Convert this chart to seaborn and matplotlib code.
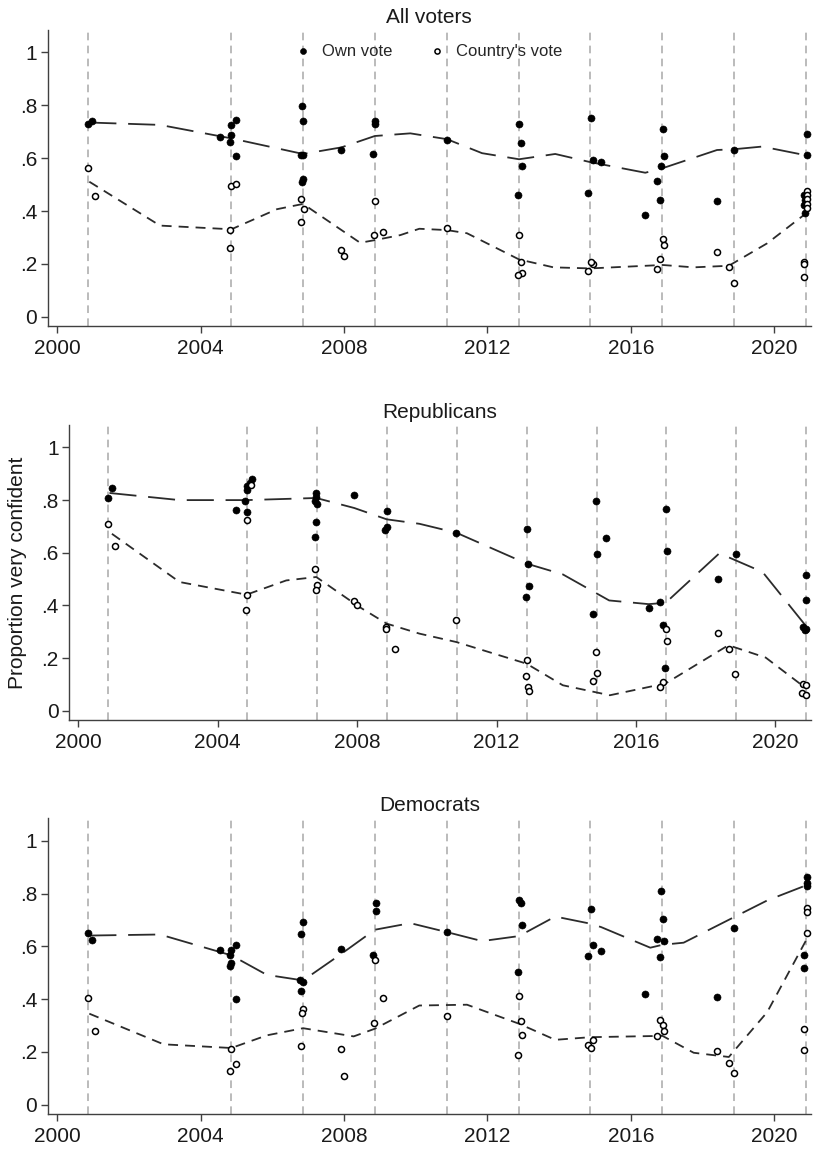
import matplotlib
matplotlib.use("Agg")
import matplotlib.pyplot as plt
import pandas as pd
import seaborn as sns

# values
ELECTIONS = [2000.86, 2004.85, 2006.86, 2008.86, 2010.86, 2012.87, 2014.87, 2016.87, 2018.87, 2020.87]
XTICKS = [2000, 2004, 2008, 2012, 2016, 2020]
YTICKS = [0, 0.2, 0.4, 0.6, 0.8, 1]
YTICK_LABELS = ["0", ".2", ".4", ".6", ".8", "1"]
TITLES = ["All voters", "Republicans", "Democrats"]

# All voters
ALL_OWN_X = [2000.86, 2000.97, 2004.55, 2004.85, 2004.85, 2004.81, 2004.99, 2004.98, 2006.83, 2006.87,
             2006.81, 2006.87, 2006.83, 2006.86, 2007.93, 2008.87, 2008.87, 2008.82, 2010.87, 2012.88,
             2012.93, 2012.97, 2012.86, 2014.88, 2014.93, 2015.17, 2014.80, 2016.90, 2016.92, 2016.85,
             2016.73, 2016.80, 2016.38, 2018.40, 2018.88, 2020.90, 2020.90, 2020.82, 2020.84, 2020.82,
             2020.84]
ALL_OWN_Y = [0.730, 0.739, 0.679, 0.724, 0.689, 0.660, 0.745, 0.610, 0.798, 0.742,
             0.611, 0.611, 0.511, 0.521, 0.631, 0.742, 0.730, 0.617, 0.669, 0.730,
             0.659, 0.571, 0.462, 0.751, 0.593, 0.585, 0.470, 0.711, 0.610, 0.571,
             0.513, 0.441, 0.386, 0.437, 0.631, 0.692, 0.612, 0.461, 0.442, 0.423,
             0.392]
ALL_CTRY_X = [2000.86, 2001.07, 2004.85, 2004.99, 2004.83, 2004.82, 2006.81, 2006.88, 2006.80, 2007.92,
              2008.01, 2008.87, 2008.84, 2009.10, 2010.87, 2012.88, 2012.93, 2012.97, 2012.86, 2014.93,
              2014.88, 2014.80, 2016.90, 2016.92, 2016.80, 2016.73, 2018.40, 2018.73, 2018.88, 2020.90,
              2020.90, 2020.90, 2020.90, 2020.90, 2020.82, 2020.82, 2020.82]
ALL_CTRY_Y = [0.562, 0.457, 0.495, 0.503, 0.330, 0.261, 0.447, 0.408, 0.359, 0.253,
              0.230, 0.439, 0.308, 0.322, 0.336, 0.311, 0.207, 0.164, 0.157, 0.199,
              0.207, 0.172, 0.293, 0.271, 0.220, 0.182, 0.245, 0.189, 0.129, 0.477,
              0.461, 0.445, 0.427, 0.410, 0.208, 0.200, 0.152]
ALL_OWN_FIT_X = [2000.90, 2002.87, 2004.86, 2006.86, 2007.93, 2008.86, 2009.85, 2010.87, 2011.85, 2012.88,
                 2013.89, 2014.87, 2016.40, 2016.88, 2018.40, 2018.88, 2019.66, 2020.88]
ALL_OWN_FIT_Y = [0.735, 0.726, 0.675, 0.616, 0.641, 0.684, 0.694, 0.672, 0.619, 0.596,
                 0.616, 0.585, 0.545, 0.562, 0.631, 0.634, 0.644, 0.611]
ALL_CTRY_FIT_X = [2000.90, 2002.87, 2004.86, 2006.13, 2006.86, 2008.45, 2008.86, 2009.57, 2010.10, 2010.87,
                  2011.43, 2012.88, 2013.84, 2014.87, 2016.88, 2017.75, 2018.73, 2019.80, 2020.88]
ALL_CTRY_FIT_Y = [0.511, 0.345, 0.331, 0.407, 0.427, 0.280, 0.290, 0.309, 0.333, 0.328,
                  0.316, 0.217, 0.187, 0.183, 0.196, 0.187, 0.193, 0.278, 0.391]

# Republicans
REP_OWN_X = [2000.87, 2000.97, 2004.54, 2004.80, 2004.83, 2004.83, 2004.85, 2004.92, 2004.99, 2006.81,
             2006.83, 2006.78, 2006.85, 2006.83, 2006.78, 2007.92, 2008.85, 2008.85, 2008.81, 2010.85,
             2012.86, 2012.91, 2012.94, 2012.84, 2014.85, 2014.87, 2015.15, 2014.78, 2016.87, 2016.89,
             2016.70, 2016.36, 2016.76, 2016.82, 2018.36, 2018.86, 2020.88, 2020.88, 2020.80, 2020.84,
             2020.88]
REP_OWN_Y = [0.807, 0.846, 0.761, 0.798, 0.753, 0.840, 0.855, 0.864, 0.880, 0.826,
             0.813, 0.798, 0.785, 0.716, 0.659, 0.819, 0.758, 0.697, 0.687, 0.676,
             0.689, 0.559, 0.475, 0.433, 0.795, 0.595, 0.655, 0.367, 0.766, 0.606,
             0.413, 0.391, 0.324, 0.164, 0.501, 0.596, 0.514, 0.419, 0.318, 0.306,
             0.312]
REP_CTRY_X = [2000.87, 2001.05, 2004.97, 2004.85, 2004.83, 2004.82, 2006.78, 2006.85, 2006.81, 2007.92,
              2007.99, 2008.83, 2008.83, 2009.08, 2010.85, 2012.86, 2012.84, 2012.90, 2012.94, 2014.85,
              2014.87, 2014.78, 2016.87, 2016.89, 2016.76, 2016.70, 2018.36, 2018.68, 2018.85, 2020.80,
              2020.88, 2020.77, 2020.88]
REP_CTRY_Y = [0.708, 0.625, 0.859, 0.726, 0.441, 0.383, 0.537, 0.479, 0.460, 0.417,
              0.403, 0.320, 0.312, 0.235, 0.343, 0.192, 0.134, 0.090, 0.076, 0.223,
              0.145, 0.114, 0.312, 0.264, 0.110, 0.092, 0.297, 0.234, 0.139, 0.101,
              0.097, 0.068, 0.059]
REP_OWN_FIT_X = [2000.90, 2002.91, 2004.83, 2006.83, 2007.92, 2008.85, 2009.79, 2010.85, 2012.86, 2013.90,
                 2015.23, 2016.36, 2016.85, 2018.39, 2019.63, 2020.88]
REP_OWN_FIT_Y = [0.827, 0.800, 0.800, 0.808, 0.770, 0.727, 0.710, 0.676, 0.559, 0.518,
                 0.419, 0.405, 0.410, 0.598, 0.527, 0.321]
REP_CTRY_FIT_X = [2000.97, 2002.91, 2004.83, 2005.97, 2006.83, 2008.07, 2008.85, 2009.79, 2010.85, 2012.86,
                  2013.90, 2015.25, 2016.85, 2018.65, 2019.72, 2020.88]
REP_CTRY_FIT_Y = [0.672, 0.489, 0.441, 0.495, 0.508, 0.394, 0.331, 0.293, 0.261, 0.179,
                  0.097, 0.059, 0.104, 0.249, 0.202, 0.085]

# Democrats
DEM_OWN_X = [2000.86, 2000.97, 2004.55, 2004.85, 2004.83, 2004.85, 2004.81, 2004.99, 2004.98, 2006.87,
             2006.81, 2006.77, 2006.86, 2006.80, 2007.92, 2008.88, 2008.88, 2008.81, 2010.87, 2012.88,
             2012.93, 2012.97, 2012.86, 2014.88, 2014.93, 2015.17, 2014.80, 2016.85, 2016.90, 2016.73,
             2016.92, 2016.80, 2016.38, 2018.40, 2018.88, 2020.90, 2020.90, 2020.90, 2020.82, 2020.82]
DEM_OWN_Y = [0.652, 0.625, 0.588, 0.585, 0.569, 0.537, 0.525, 0.607, 0.399, 0.694,
             0.645, 0.471, 0.465, 0.431, 0.591, 0.766, 0.735, 0.567, 0.655, 0.774,
             0.766, 0.682, 0.504, 0.742, 0.606, 0.583, 0.564, 0.809, 0.702, 0.628,
             0.622, 0.561, 0.418, 0.409, 0.670, 0.862, 0.840, 0.827, 0.568, 0.518]
DEM_CTRY_X = [2000.86, 2001.06, 2004.85, 2004.98, 2004.83, 2006.87, 2006.82, 2006.80, 2007.92, 2008.01,
              2008.87, 2008.84, 2009.10, 2010.87, 2012.88, 2012.93, 2012.97, 2012.86, 2014.93, 2014.80,
              2014.88, 2016.80, 2016.90, 2016.92, 2016.73, 2018.40, 2018.73, 2018.88, 2020.90, 2020.90,
              2020.90, 2020.82, 2020.82]
DEM_CTRY_Y = [0.404, 0.280, 0.213, 0.154, 0.128, 0.362, 0.348, 0.223, 0.210, 0.109,
              0.548, 0.308, 0.403, 0.335, 0.412, 0.319, 0.266, 0.188, 0.246, 0.227,
              0.216, 0.321, 0.301, 0.278, 0.260, 0.203, 0.158, 0.119, 0.744, 0.732,
              0.650, 0.288, 0.208]
DEM_OWN_FIT_X = [2000.90, 2002.87, 2004.86, 2005.85, 2006.86, 2007.93, 2008.86, 2009.85, 2010.87, 2011.85,
                 2012.88, 2013.89, 2014.87, 2015.17, 2016.54, 2016.88, 2017.47, 2018.88, 2019.80, 2020.88]
DEM_OWN_FIT_Y = [0.641, 0.645, 0.566, 0.492, 0.471, 0.572, 0.663, 0.688, 0.654, 0.620,
                 0.639, 0.713, 0.686, 0.673, 0.595, 0.606, 0.614, 0.711, 0.774, 0.831]
DEM_CTRY_FIT_X = [2000.90, 2002.97, 2004.86, 2005.85, 2006.86, 2008.27, 2008.86, 2010.10, 2011.43, 2012.88,
                  2013.89, 2014.87, 2016.88, 2017.75, 2018.73, 2019.80, 2020.88]
DEM_CTRY_FIT_Y = [0.345, 0.229, 0.215, 0.263, 0.290, 0.259, 0.288, 0.376, 0.379, 0.307,
                  0.246, 0.256, 0.261, 0.197, 0.181, 0.351, 0.622]

PANEL_DATA = [
    (ALL_OWN_X, ALL_OWN_Y, ALL_CTRY_X, ALL_CTRY_Y,
     ALL_OWN_FIT_X, ALL_OWN_FIT_Y, ALL_CTRY_FIT_X, ALL_CTRY_FIT_Y),
    (REP_OWN_X, REP_OWN_Y, REP_CTRY_X, REP_CTRY_Y,
     REP_OWN_FIT_X, REP_OWN_FIT_Y, REP_CTRY_FIT_X, REP_CTRY_FIT_Y),
    (DEM_OWN_X, DEM_OWN_Y, DEM_CTRY_X, DEM_CTRY_Y,
     DEM_OWN_FIT_X, DEM_OWN_FIT_Y, DEM_CTRY_FIT_X, DEM_CTRY_FIT_Y),
]

# axes boxes in figure fraction (left, bottom, width, height)
AXES_POS = [
    (0.0587, 0.7165, 0.9388, 0.2574),
    (0.0849, 0.3739, 0.9127, 0.2565),
    (0.0587, 0.0313, 0.9388, 0.2571),
]

sns.set_style("ticks")
plt.rcParams["font.family"] = ["Liberation Sans", "DejaVu Sans"]

SPINE = "#404040"
fig = plt.figure(figsize=(8.13, 11.5), dpi=100)

for i, (title, pos, data) in enumerate(zip(TITLES, AXES_POS, PANEL_DATA)):
    own_x, own_y, ctry_x, ctry_y, ofx, ofy, cfx, cfy = data
    ax = fig.add_axes(pos)

    # election-day reference lines
    for e in ELECTIONS:
        ax.axvline(e, color="#a8a8a8", lw=1.1, linestyle=(0, (5, 3.5)), zorder=0)

    own = pd.DataFrame({"year": own_x, "share": own_y})
    ctry = pd.DataFrame({"year": ctry_x, "share": ctry_y})

    # smoothed trends
    sns.lineplot(x=ofx, y=ofy, ax=ax, estimator=None, sort=False, color="#2b2b2b",
                 lw=1.3, linestyle=(0, (15, 6.5)), zorder=2)
    sns.lineplot(x=cfx, y=cfy, ax=ax, estimator=None, sort=False, color="#2b2b2b",
                 lw=1.3, linestyle=(0, (5.5, 3.9)), zorder=2)

    sns.scatterplot(data=own, x="year", y="share", ax=ax, color="black", s=26,
                    edgecolor="black", linewidth=0.4, zorder=3, label="Own vote")
    sns.scatterplot(data=ctry, x="year", y="share", ax=ax, color="black", facecolor="white",
                    edgecolor="black", s=19, linewidth=1.1, zorder=3, label="Country's vote")

    ax.set_xlim(1999.74, 2021.02)
    ax.set_ylim(-0.035, 1.085)
    ax.set_xticks(XTICKS)
    ax.set_xticklabels([str(t) for t in XTICKS])
    ax.set_yticks(YTICKS)
    ax.set_yticklabels(YTICK_LABELS)
    ax.tick_params(axis="both", labelsize=15, length=5, width=1.0, color=SPINE,
                   labelcolor="#1a1a1a")
    ax.tick_params(axis="x", pad=4)
    ax.tick_params(axis="y", pad=2.5)
    sns.despine(ax=ax)
    for side in ["left", "bottom"]:
        ax.spines[side].set_color(SPINE)
        ax.spines[side].set_linewidth(1.0)

    ax.set_xlabel("")
    ax.set_ylabel("")
    ax.set_title(title, fontsize=15, pad=5, color="#1a1a1a")

    if i == 0:
        ax.legend(loc="center", bbox_to_anchor=(0.5, 0.929), ncol=2, frameon=False,
                  fontsize=12, markerscale=0.85, handlelength=0.8, handletextpad=0.75,
                  columnspacing=2.3)
    else:
        ax.get_legend().remove()

    if i == 1:
        ax.set_ylabel("Proportion very confident", fontsize=15, color="#1a1a1a")
        ax.yaxis.set_label_coords(-0.056, 0.5)

fig.savefig("out.png", dpi=100, facecolor="white")
